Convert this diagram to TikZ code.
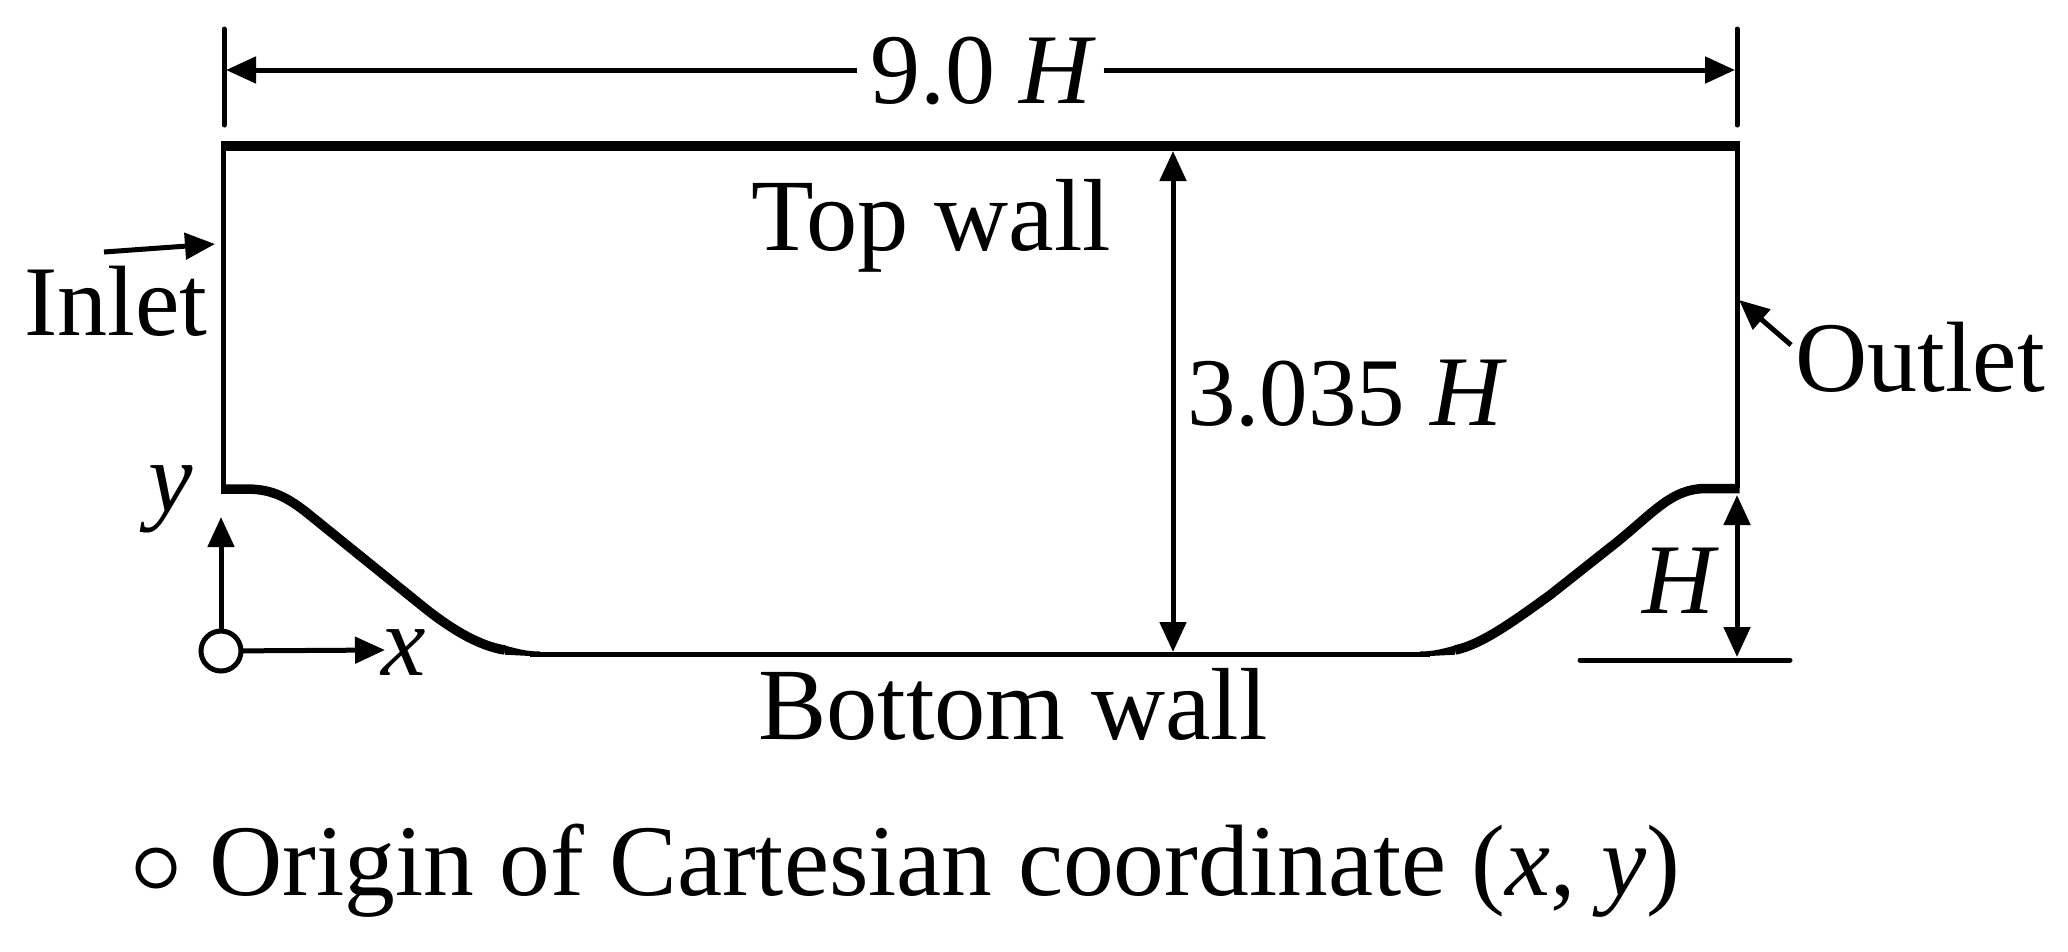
\documentclass[tikz,border=0pt]{standalone}
\usepackage{fontspec}
\setmainfont{Liberation Serif}
\usetikzlibrary{arrows.meta}
\tikzset{
  lbl/.style={anchor=base west,inner sep=0pt,outer sep=0pt,font=\fontsize{100}{120}\selectfont},
  lblw/.style={lbl,font=\fontsize{102.5}{120}\selectfont},
  lblo/.style={lbl,font=\fontsize{101.5}{120}\selectfont},
  dim/.style={line width=5pt,-{Triangle[length=30pt,width=26pt]}},
  dimboth/.style={line width=5pt,{Triangle[length=30pt,width=26pt]}-{Triangle[length=30pt,width=26pt]}},
  thin wall/.style={line width=5pt},
  thick wall/.style={line width=9.5pt},
  tick/.style={line width=5pt,line cap=round},
  orig/.style={circle,draw,line width=5pt,fill=white,inner sep=0pt,minimum size=40pt,outer sep=0pt},
}
\begin{document}
\begin{tikzpicture}[x=1pt,y=-1pt]
\useasboundingbox (0,0) rectangle (2068,951);
% coordinates
\coordinate (TL) at (223.5,146);
\coordinate (TR) at (1737,146);
\coordinate (LL) at (223.5,488);
\coordinate (RL) at (1737,488);
\coordinate (dimL) at (226,70);
\coordinate (dimR) at (1735,70);
\coordinate (tickLa) at (224,29);
\coordinate (tickLb) at (224,125);
\coordinate (tickRa) at (1737,29);
\coordinate (tickRb) at (1737,125);
\coordinate (hTop) at (1173,151);
\coordinate (hBot) at (1173,652);
\coordinate (inA) at (104,252);
\coordinate (inB) at (215,244);
\coordinate (outA) at (1791,345);
\coordinate (outB) at (1739,300);
\coordinate (hhTop) at (1737,495);
\coordinate (hhBot) at (1737,657);
\coordinate (baseA) at (1580,660);
\coordinate (baseB) at (1790,660);
\coordinate (yTip) at (221,517);
\coordinate (xTip) at (385,650);
% walls
\draw[thin wall] (TL) -- (LL);
\draw[thin wall] (TR) -- (RL);
\draw[line width=10pt] (221,146) -- (1739.5,146);
\draw[thick wall] (221,489) -- (245,489) .. controls (268,489) and (283,494) .. (306,512)
  -- (421,605) .. controls (448,627) and (478,646) .. (505,650);
\fill (504,645.3) .. controls (515,648) and (525,651.5) .. (540,651.5) -- (540,656.5) -- (505,654.7) -- cycle;
\draw[thin wall] (530,654) -- (1430,654);
\fill (1456,645.3) .. controls (1445,648) and (1435,651.5) .. (1420,651.5) -- (1420,656.5) -- (1455,654.7) -- cycle;
\draw[thick wall] (1455,650) .. controls (1480,645) and (1510,624) .. (1550,595)
  -- (1617,542) .. controls (1655,511) and (1672,489) .. (1705,488.5) -- (1739.5,488.5);
% top dimension
\draw[tick] (tickLa) -- (tickLb);
\draw[tick] (tickRa) -- (tickRb);
\node[lbl] (dimtxt) at (870,103) {9.0\hspace{24pt}\textit{H}};
\draw[dim] ([xshift=-13pt]dimtxt.west |- dimL) -- (dimL);
\draw[dim] ([xshift=8pt]dimtxt.east |- dimR) -- (dimR);
% arrows
\draw[dimboth] (hTop) -- (hBot);
\draw[dim] (inA) -- (inB);
\draw[dim] (outA) -- (outB);
\draw[dimboth] (hhTop) -- (hhBot);
\draw[thin wall,line cap=round] (baseA) -- (baseB);
% axes
\node[orig] (origin) at (221,651) {};
\draw[dim] (origin) -- (yTip);
\draw[dim] (origin) -- (xTip);
% labels
\node[lblw] (topw) at (751,250) {Top wall};
\node[lbl] (inlet) at (24,335) {Inlet};
\node[lbl] (h3) at (1187,425) {{\fontsize{97}{120}\selectfont 3.035}\hspace{25pt}\textit{H}};
\node[lbl] (outlet) at (1795,391) {Outlet};
\node[lblw] (bottom) at (758,739) {Bottom wall};
\node[lbl] (hlab) at (1642,613) {\textit{H}};
\node[lbl] (ylab) at (148,511) {\textit{y}};
\node[lbl] (xlab) at (381,675) {\textit{x}};
\node[lblo] (legtxt) at (209,895) {Origin of Cartesian coordinate (\textit{x}, \textit{y})};
\node[orig,minimum size=36pt] (legc) at (156,868) {};
\end{tikzpicture}
\end{document}
